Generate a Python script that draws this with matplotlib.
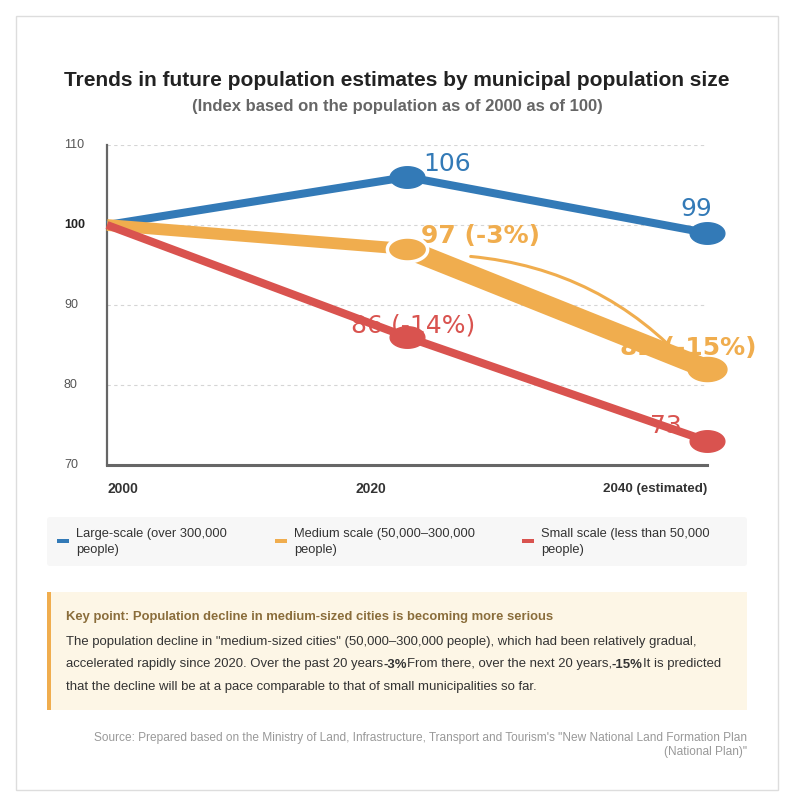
import numpy as np
import matplotlib
matplotlib.use("Agg")
import matplotlib.pyplot as plt
from matplotlib.path import Path
from matplotlib.patches import Rectangle, FancyBboxPatch, FancyArrowPatch

plt.rcParams['font.family'] = ['Liberation Sans', 'DejaVu Sans']

# data
positions = [0, 1, 2]
years = ['2000', '2020', '2040 (estimated)']
large = [100, 106, 99]
medium = [100, 97, 82]
small = [100, 86, 73]
series_names = ['Large-scale (over 300,000\npeople)',
                'Medium scale (50,000\u2013300,000\npeople)',
                'Small scale (less than 50,000\npeople)']
yticks = [70, 80, 90, 100, 110]

BLUE = '#337ab7'
ORANGE = '#f0ad4e'
RED = '#d9534f'

W, H = 794, 806


def fx(x):
    return x / W


def fy(y):
    return 1 - y / H


fig = plt.figure(figsize=(W / 100, H / 100), dpi=100)
fig.patch.set_facecolor('white')

# outer border
fig.patches.append(Rectangle((fx(16), fy(790)), fx(762), 774 / H, transform=fig.transFigure,
                             fill=False, edgecolor='#dddddd', linewidth=1))

fig.text(0.5, fy(80), 'Trends in future population estimates by municipal population size',
         ha='center', va='center', fontsize=15, fontweight='bold', color='#222222')
fig.text(0.5, fy(106), '(Index based on the population as of 2000 as of 100)',
         ha='center', va='center', fontsize=12, fontweight='bold', color='#666666')

ax = fig.add_axes([fx(107), fy(465), 600 / W, 320 / H])
ax.set_xlim(0, 2)
ax.set_ylim(70, 110)
for s in ['top', 'right']:
    ax.spines[s].set_visible(False)
ax.spines['left'].set_color('#666666')
ax.spines['left'].set_linewidth(1.6)
ax.spines['bottom'].set_color('#666666')
ax.spines['bottom'].set_linewidth(2.2)
ax.set_xticks([])
ax.set_yticks([])
for v in yticks[1:]:
    ax.axhline(v, color='#d5d5d5', linewidth=0.8, linestyle=(0, (3, 3)), zorder=1)

# y tick labels
for v in yticks:
    bold = v == 100
    ax.annotate(str(v), xy=(0, v), xycoords=('axes fraction', 'data'),
                xytext=(-43, 0), textcoords='offset pixels', ha='left', va='center',
                fontsize=9, color='#222222' if bold else '#555555',
                fontweight='bold' if bold else 'normal', annotation_clip=False)

# x labels (space-between row)
ax.text(0, -0.075, years[0], transform=ax.transAxes, ha='left', va='center',
        fontsize=10, fontweight='bold', color='#333333')
ax.text(0.44, -0.075, years[1], transform=ax.transAxes, ha='center', va='center',
        fontsize=10, fontweight='bold', color='#333333')
ax.text(1, -0.075, years[2], transform=ax.transAxes, ha='right', va='center',
        fontsize=9.6, fontweight='bold', color='#333333')

# ellipse marker
t = np.linspace(0, 2 * np.pi, 64)
ell = Path(np.column_stack([np.cos(t), 0.62 * np.sin(t)]), closed=True)

ax.plot(positions, large, color=BLUE, linewidth=5.8, solid_capstyle='butt', zorder=3, clip_on=False)
ax.plot(positions[1:], large[1:], linestyle='none', marker=ell, markersize=25,
        color=BLUE, zorder=3.1, clip_on=False)

ax.plot(positions[:2], medium[:2], color=ORANGE, linewidth=8.5, solid_capstyle='butt', zorder=4, clip_on=False)
ax.plot(positions[1:], medium[1:], color=ORANGE, linewidth=14, solid_capstyle='butt', zorder=4, clip_on=False)
ax.plot(positions[1:2], medium[1:2], linestyle='none', marker=ell, markersize=29,
        color=ORANGE, markeredgecolor='white', markeredgewidth=2.5, zorder=4.2, clip_on=False)
ax.plot(positions[2:], medium[2:], linestyle='none', marker=ell, markersize=28,
        color=ORANGE, zorder=4.2, clip_on=False)

arc = FancyArrowPatch((1.203, 96.1), (1.95, 82.0), connectionstyle='arc3,rad=-0.2',
                      arrowstyle='-', color=ORANGE, linewidth=2.2, zorder=4)
ax.add_patch(arc)

ax.plot(positions, small, color=RED, linewidth=5.8, solid_capstyle='butt', zorder=5, clip_on=False)
ax.plot(positions[1:], small[1:], linestyle='none', marker=ell, markersize=25,
        color=RED, zorder=5.1, clip_on=False)

# value labels (drawn below the lines)
lab_font = ['DejaVu Sans']
ax.annotate(f'{large[1]}', xy=(1, large[1]), xytext=(16, 13), textcoords='offset pixels',
            ha='left', va='center', fontsize=18, color=BLUE, family=lab_font, zorder=2)
ax.annotate(f'{large[2]}', xy=(2, large[2]), xytext=(-27, 24), textcoords='offset pixels',
            ha='left', va='center', fontsize=18, color=BLUE, family=lab_font, zorder=2)
ax.annotate(f'{medium[1]} (-3%)', xy=(1, medium[1]), xytext=(14, 13), textcoords='offset pixels',
            ha='left', va='center', fontsize=18, color=ORANGE, fontweight='bold', family=lab_font, zorder=2)
ax.annotate(f'{medium[2]} (-15%)', xy=(2, medium[2]), xytext=(-87, 21), textcoords='offset pixels',
            ha='left', va='center', fontsize=18, color=ORANGE, fontweight='bold', family=lab_font,
            zorder=2, annotation_clip=False)
ax.annotate(f'{small[1]} (-14%)', xy=(1, small[1]), xytext=(-56, 11), textcoords='offset pixels',
            ha='left', va='center', fontsize=18, color=RED, family=lab_font, zorder=2)
ax.annotate(f'{small[2]}', xy=(2, small[2]), xytext=(-57, 15), textcoords='offset pixels',
            ha='left', va='center', fontsize=18, color=RED, family=lab_font, zorder=2)

# legend box
fig.patches.append(FancyBboxPatch((fx(47), fy(566)), 700 / W, 49 / H, transform=fig.transFigure,
                                  boxstyle='round,pad=0,rounding_size=0.004',
                                  facecolor='#f7f7f7', edgecolor='none'))
leg_x = [57, 275, 522]
for x0, name, col in zip(leg_x, series_names, [BLUE, ORANGE, RED]):
    fig.patches.append(Rectangle((fx(x0), fy(543)), 12 / W, 4 / H, transform=fig.transFigure,
                                 facecolor=col, edgecolor='none'))
    fig.text(fx(x0 + 19), fy(542), name, ha='left', va='center', fontsize=9.3,
             color='#333333', linespacing=1.4)

# key point box
fig.patches.append(Rectangle((fx(47), fy(710)), 700 / W, 118 / H, transform=fig.transFigure,
                             facecolor='#fdf6e6', edgecolor='none'))
fig.patches.append(Rectangle((fx(47), fy(710)), 3.5 / W, 118 / H, transform=fig.transFigure,
                             facecolor=ORANGE, edgecolor='none'))
fig.text(fx(66), fy(617), 'Key point: Population decline in medium-sized cities is becoming more serious',
         ha='left', va='center', fontsize=9.4, fontweight='bold', color='#8a6d3b')

body = [
    [('The population decline in "medium-sized cities" (50,000\u2013300,000 people), which had been relatively gradual,', 'normal')],
    [('accelerated rapidly since 2020. Over the past 20 years', 'normal'), ('-3%', 'bold'),
     ('From there, over the next 20 years,', 'normal'), ('-15%', 'bold'), ('It is predicted', 'normal')],
    [('that the decline will be at a pace comparable to that of small municipalities so far.', 'normal')],
]
renderer = fig.canvas.get_renderer()
for i, line in enumerate(body):
    x = 66
    for txt, wt in line:
        tt = fig.text(fx(x), fy(645 + i * 22.5), txt, ha='left', va='baseline', fontsize=9.45,
                      fontweight=wt, color='#333333')
        x += tt.get_window_extent(renderer).width

fig.text(fx(747), fy(745), 'Source: Prepared based on the Ministry of Land, Infrastructure, Transport and Tourism\'s '
         '"New National Land Formation Plan\n(National Plan)"', ha='right', va='center', fontsize=8.6,
         color='#999999', multialignment='right', linespacing=1.25)

fig.savefig('out.png', dpi=100)
